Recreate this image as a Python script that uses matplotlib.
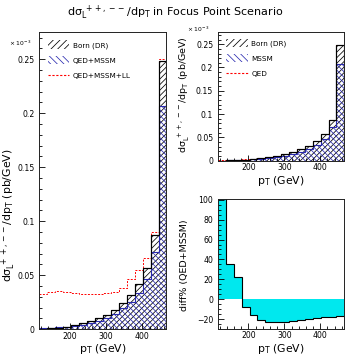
import numpy as np
import matplotlib
matplotlib.use("Agg")
import matplotlib.pyplot as plt
from matplotlib.patches import Patch
from matplotlib.lines import Line2D
from matplotlib.ticker import MultipleLocator

plt.rcParams['font.family'] = ['DejaVu Sans']
plt.rcParams['mathtext.fontset'] = 'dejavusans'
plt.rcParams['mathtext.default'] = 'regular'
plt.rcParams['hatch.linewidth'] = 0.55

# ---- data (pT bins in GeV, cross sections in 10^-3 pb/GeV) ----
edges = [115, 137, 159, 181, 203, 225, 247, 269, 291, 313, 335, 357, 379, 401, 423, 445, 467]
born = [0.0004, 0.0008, 0.0015, 0.0025, 0.0038, 0.0055, 0.0075, 0.0100, 0.0135, 0.0180,
        0.0245, 0.0320, 0.0420, 0.0570, 0.0870, 0.2480]
qed_mssm = [0.00092, 0.00108, 0.00184, 0.00232, 0.0032, 0.0044, 0.0058, 0.0077, 0.0105, 0.0141,
            0.0195, 0.0257, 0.0340, 0.0467, 0.0718, 0.2071]
qed_mssm_ll = [0.0330, 0.0345, 0.0350, 0.0345, 0.0335, 0.0330, 0.0325, 0.0330, 0.0335, 0.0345,
               0.0385, 0.0470, 0.0545, 0.0660, 0.0900, 0.2500]
mssm = [0.00032, 0.00064, 0.0012, 0.0020, 0.0030, 0.0043, 0.0058, 0.0077, 0.0104, 0.0140,
        0.0193, 0.0255, 0.0338, 0.0466, 0.0717, 0.2070]
qed = [0.0012, 0.0015, 0.0022, 0.0028, 0.0040, 0.0056, 0.0076, 0.0101, 0.0136, 0.0181,
       0.0246, 0.0322, 0.0422, 0.0572, 0.0873, 0.2485]
diff_pct = [130, 35, 22.8, -7.4, -15.8, -20.5, -22.5, -22.8, -22.5, -21.5,
            -20.5, -19.8, -19.0, -18.0, -17.5, -16.5]

W, H = 350, 354
fig = plt.figure(figsize=(W / 100, H / 100), dpi=100)

def rect(x0, y0, x1, y1):
    return [x0 / W, 1 - y1 / H, (x1 - x0) / W, (y1 - y0) / H]

axL = fig.add_axes(rect(39.4, 31.7, 166.5, 329.3))
axR = fig.add_axes(rect(218, 32.3, 344.3, 160.7))
axD = fig.add_axes(rect(218, 199.3, 344.3, 329))

BLUE = '#2a2ab0'
ylab = r'd$\sigma_L^{\ ++,--}$/dp$_T$ (pb/GeV)'

def style(ax, xmaj=100, xmin=20):
    ax.set_xlim(edges[0], edges[-1])
    ax.xaxis.set_major_locator(MultipleLocator(xmaj))
    ax.xaxis.set_minor_locator(MultipleLocator(xmin))
    ax.tick_params(which='both', direction='in', top=False, right=False,
                   labelsize=5.6, width=0.6, colors='black')
    ax.tick_params(axis='y', which='both', pad=3.5)
    ax.tick_params(axis='x', which='both', pad=1.8)
    ax.tick_params(which='major', length=4.5)
    ax.tick_params(which='minor', length=2.3)
    for s in ax.spines.values():
        s.set_linewidth(0.7)
        s.set_color('#222222')

def draw_upper(ax, blue_vals, red_vals, labels):
    ax.stairs(born, edges, fill=True, facecolor='white', edgecolor='black',
              hatch='//////', lw=0.8)
    ax.stairs(blue_vals, edges, fill=True, facecolor='none', edgecolor=BLUE,
              hatch='\\\\\\\\\\\\', lw=0.8)
    ax.stairs(red_vals, edges, baseline=None, color='red', lw=0.7, ls=(0, (2, 1.5)))
    ax.stairs(born, edges, baseline=None, color='black', lw=0.8)
    ax.set_ylim(0, 0.2755)
    ax.yaxis.set_major_locator(MultipleLocator(0.05))
    ax.yaxis.set_minor_locator(MultipleLocator(0.01))
    ax.yaxis.set_major_formatter(matplotlib.ticker.FuncFormatter(
        lambda v, p: '0' if abs(v) < 1e-9 else ('%.2f' % v).rstrip('0')))
    handles = [Patch(facecolor='white', edgecolor='black', hatch='/////', lw=0),
               Patch(facecolor='white', edgecolor=BLUE, hatch='\\\\\\\\\\', lw=0),
               Line2D([], [], color='red', lw=0.8, ls=(0, (2, 1.5)))]
    ax.legend(handles, labels, loc='upper left', bbox_to_anchor=(0.03, 0.985),
              frameon=False, fontsize=5.2, handlelength=3.0, handleheight=1.4,
              labelspacing=1.0, handletextpad=0.5, borderaxespad=0.2)

draw_upper(axL, qed_mssm, qed_mssm_ll, ['Born (DR)', 'QED+MSSM', 'QED+MSSM+LL'])
style(axL)
draw_upper(axR, mssm, qed, ['Born (DR)', 'MSSM', 'QED'])
style(axR)

# diff panel
axD.stairs(diff_pct, edges, fill=True, color='#00e8ee', baseline=0, lw=0)
axD.stairs(diff_pct, edges, baseline=None, color='black', lw=0.8)
axD.set_ylim(-30, 100.5)
axD.yaxis.set_major_locator(MultipleLocator(20))
axD.yaxis.set_minor_locator(MultipleLocator(5))
style(axD)

# labels
fig.text(0.5, 1 - 13 / H, r'd$\sigma_L^{\ ++,--}$/dp$_T$ in Focus Point Scenario',
         ha='center', va='center', fontsize=8)
fig.text(9 / W, 1 - 215 / H, ylab, rotation=90, ha='center', va='center', fontsize=7.8)
fig.text(184 / W, 1 - 95 / H, ylab, rotation=90, ha='center', va='center', fontsize=6.8)
fig.text(184 / W, 1 - 265 / H, 'diff% (QED+MSSM)', rotation=90, ha='center',
         va='center', fontsize=6.8)
fig.text(103 / W, 1 - 348.5 / H, r'p$_T$ (GeV)', ha='center', va='center', fontsize=7.8)
fig.text(281 / W, 1 - 180.5 / H, r'p$_T$ (GeV)', ha='center', va='center', fontsize=7.8)
fig.text(281 / W, 1 - 348.5 / H, r'p$_T$ (GeV)', ha='center', va='center', fontsize=7.8)
fig.text(20 / W, 1 - 43 / H, r'$\times\ 10^{-3}$', ha='center', va='center', fontsize=4.3)
fig.text(198 / W, 1 - 29 / H, r'$\times\ 10^{-3}$', ha='center', va='center', fontsize=4.3)

fig.savefig('out.png', dpi=100, facecolor='white')
